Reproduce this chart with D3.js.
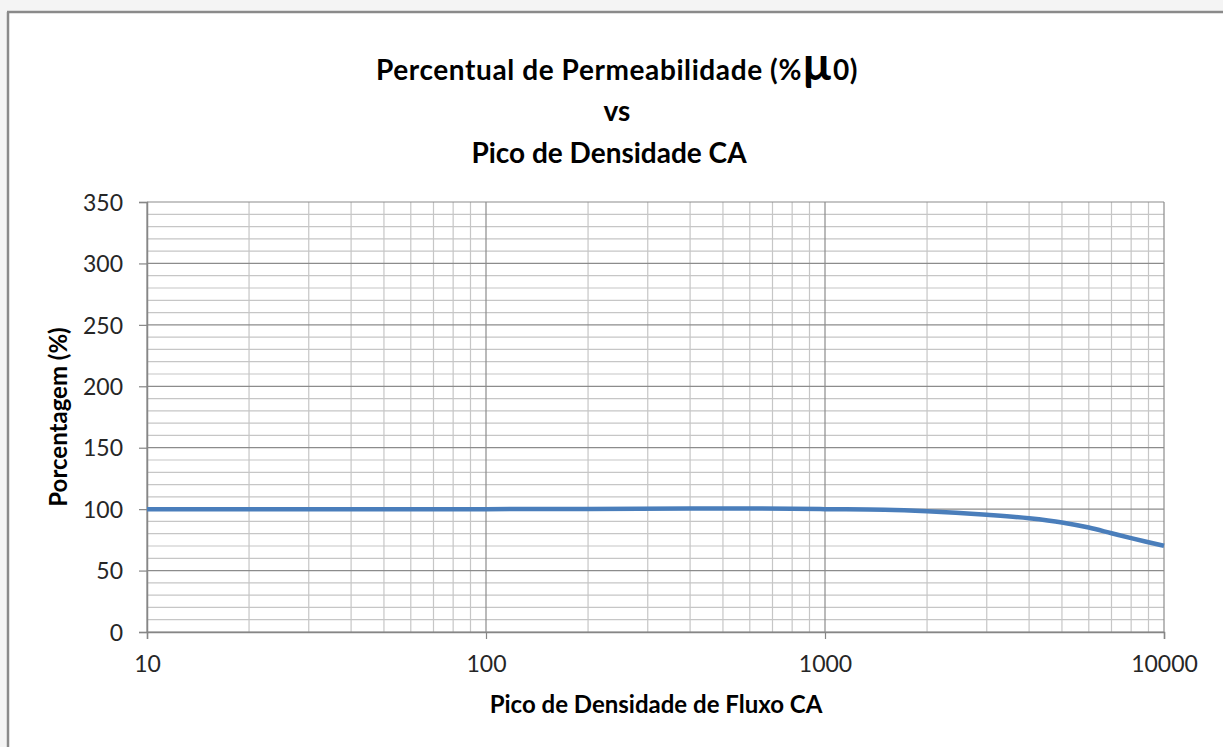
<!DOCTYPE html>
<html>
<head>
<meta charset="utf-8">
<script src="https://cdn.jsdelivr.net/npm/d3@7"></script>
<style>
  html, body { margin: 0; padding: 0; background: #ffffff; }
  svg { display: block; }
</style>
</head>
<body>
<svg id="chart" width="1223" height="747"></svg>
<script>
// ---- data ----
const fluxDensity = [10, 20, 50, 100, 200, 400, 600, 800, 1000, 1500, 2000, 3000, 4000, 5000, 6000, 7000, 8000, 9000, 10000];
const permeabilityPct = [100, 100, 100, 100, 100.2, 100.5, 100.6, 100.3, 100, 99.5, 98.3, 95.4, 92.6, 89.2, 85, 80.4, 76.4, 73.1, 70.2];
const yTicks = [0, 50, 100, 150, 200, 250, 300, 350];
const xTicks = [10, 100, 1000, 10000];
const titleLines = ["Percentual de Permeabilidade (%", "vs", "Pico de Densidade CA"];
const xTitle = "Pico de Densidade de Fluxo CA";
const yTitle = "Porcentagem (%)";

const svg = d3.select("#chart");
const FONT = "Lato, 'Open Sans', sans-serif";

// background outside the frame
svg.append("rect").attr("x", 0).attr("y", 0).attr("width", 1223).attr("height", 747).attr("fill", "#f4f4f4");
svg.append("rect").attr("x", 9).attr("y", 13).attr("width", 1214).attr("height", 734).attr("fill", "#ffffff");
svg.append("line").attr("x1", 8).attr("x2", 8).attr("y1", 12).attr("y2", 747).attr("stroke", "#8a8a8a").attr("stroke-width", 2.5);
svg.append("line").attr("x1", 7).attr("x2", 1223).attr("y1", 12).attr("y2", 12).attr("stroke", "#8a8a8a").attr("stroke-width", 2.5);

const x = d3.scaleLog().domain([10, 10000]).range([147, 1164]);
const y = d3.scaleLinear().domain([0, 350]).range([632, 202]);

// gridlines
const minorX = [];
[10, 100, 1000].forEach(d => { for (let k = 2; k <= 9; k++) minorX.push(d * k); });
const minorY = d3.range(0, 351, 10).filter(v => v % 50 !== 0);

const grid = svg.append("g");
grid.selectAll(".mx").data(minorX).join("line")
  .attr("x1", d => x(d)).attr("x2", d => x(d)).attr("y1", y(0)).attr("y2", y(350))
  .attr("stroke", "#c6c6c6").attr("stroke-width", 1.2);
grid.selectAll(".my").data(minorY).join("line")
  .attr("x1", x(10)).attr("x2", x(10000)).attr("y1", d => y(d)).attr("y2", d => y(d))
  .attr("stroke", "#c6c6c6").attr("stroke-width", 1.2);
grid.selectAll(".My").data(yTicks).join("line")
  .attr("x1", x(10)).attr("x2", x(10000)).attr("y1", d => y(d)).attr("y2", d => y(d))
  .attr("stroke", "#8c8c8c").attr("stroke-width", 1.2);
grid.selectAll(".Mx").data(xTicks).join("line")
  .attr("x1", d => x(d)).attr("x2", d => x(d)).attr("y1", y(0)).attr("y2", y(350))
  .attr("stroke", "#8c8c8c").attr("stroke-width", 1.2);

// axes
const yAxis = d3.axisLeft(y).tickValues(yTicks).tickSize(8).tickPadding(16).tickFormat(d3.format("d"));
const gy = svg.append("g").attr("transform", `translate(${x(10)},0)`).call(yAxis);
const xAxis = d3.axisBottom(x).tickValues(xTicks).tickSize(7).tickPadding(17).tickFormat(d3.format("d"));
const gx = svg.append("g").attr("transform", `translate(0,${y(0)})`).call(xAxis);
[gx, gy].forEach(g => {
  g.select(".domain").attr("stroke", "#868686").attr("stroke-width", 1.5);
  g.selectAll(".tick line").attr("stroke", "#868686").attr("stroke-width", 1.2);
  g.selectAll(".tick text").attr("fill", "#262626").style("font-family", FONT).style("font-size", "23px");
});
gy.selectAll(".tick text").attr("dy", "0.36em");

// line
const line = d3.line().x((d, i) => x(fluxDensity[i])).y(d => y(d)).curve(d3.curveMonotoneX);
svg.append("path").datum(permeabilityPct)
  .attr("d", line).attr("fill", "none").attr("stroke", "#4a7ebb").attr("stroke-width", 4.5)
  .attr("stroke-linecap", "butt");

// titles
const t1 = svg.append("text").attr("x", 617).attr("y", 80).attr("text-anchor", "middle")
  .style("font-family", FONT).style("font-weight", "bold").style("font-size", "28px")
  .style("letter-spacing", "0.6px").attr("fill", "#000");
t1.append("tspan").text(titleLines[0]);
t1.append("tspan").text("µ").style("font-size", "46px");
t1.append("tspan").text("0)");
svg.append("text").attr("x", 617).attr("y", 121).attr("text-anchor", "middle")
  .style("font-family", FONT).style("font-weight", "bold").style("font-size", "28px").text(titleLines[1]);
svg.append("text").attr("x", 609).attr("y", 163).attr("text-anchor", "middle")
  .style("font-family", FONT).style("font-weight", "bold").style("font-size", "28px").text(titleLines[2]);

svg.append("text").attr("x", 656).attr("y", 713).attr("text-anchor", "middle")
  .style("font-family", FONT).style("font-weight", "bold").style("font-size", "24px").attr("fill", "#000").text(xTitle);
svg.append("text").attr("transform", "translate(67,417) rotate(-90)").attr("text-anchor", "middle")
  .style("font-family", FONT).style("font-weight", "bold").style("font-size", "24px").attr("fill", "#000").text(yTitle);
</script>
</body>
</html>
